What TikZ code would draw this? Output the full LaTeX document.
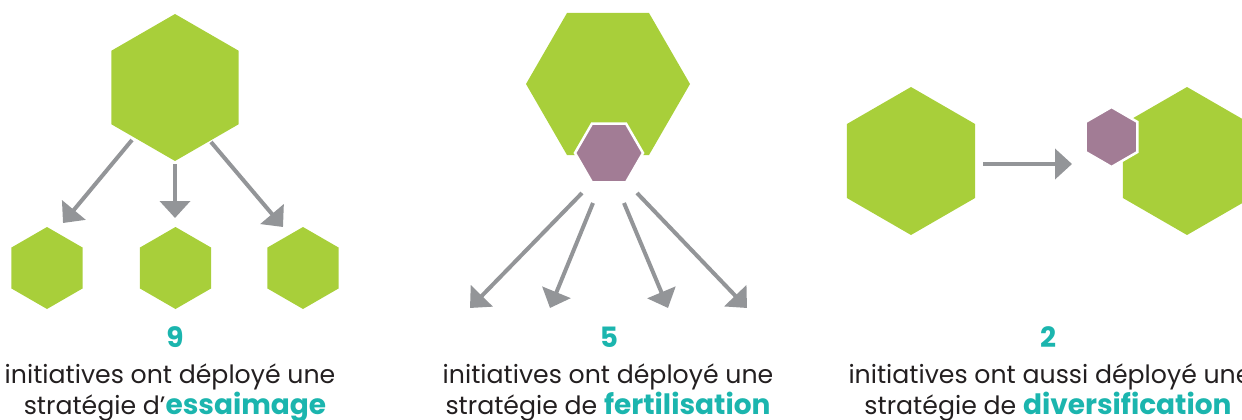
\documentclass[tikz,border=0pt]{standalone}
\usepackage{fontspec}
\setmainfont{Poppins}
\usetikzlibrary{arrows.meta,shapes.geometric}
\definecolor{hgreen}{HTML}{A8CF3A}
\definecolor{hpurple}{HTML}{A27C95}
\definecolor{agray}{HTML}{939598}
\definecolor{teal}{HTML}{1BB5AE}
\definecolor{txt}{HTML}{231F20}
\newcommand{\kwd}[1]{\textcolor{teal}{\fontsize{28}{28}\selectfont\bfseries #1}}
\tikzset{
  hexflat/.style={regular polygon, regular polygon sides=6, inner sep=0pt, outer sep=0pt, minimum size=#1},
  hexpoint/.style={hexflat=#1, shape border rotate=30},
  greenhex/.style={fill=hgreen, draw=none},
  purplehex/.style={fill=hpurple, draw=white, line width=2.5pt},
  flow/.style={draw=agray, line width=4pt, -{Triangle[length=17pt,width=30pt]}},
  num/.style={font=\fontsize{28}{30}\selectfont\bfseries, text=teal, anchor=base},
  lbl/.style={font=\fontsize{25.2}{28}\selectfont, text=txt, anchor=base, align=center}
}
\begin{document}
\begin{tikzpicture}[x=1pt,y=-1pt]
\useasboundingbox (0,0) rectangle (1242,420);
\clip (0,0) rectangle (1242,420);
% left diagram: essaimage
\node[greenhex, hexpoint=147pt] (lbig) at (175,87.5) {};
\node[greenhex, hexpoint=82pt] (ls1) at (47,268) {};
\node[greenhex, hexpoint=82pt] (ls2) at (175.5,268) {};
\node[greenhex, hexpoint=82pt] (ls3) at (303,268) {};
\coordinate (la1s) at (132,140); \coordinate (la1e) at (63,223);
\coordinate (la2s) at (175,164); \coordinate (la2e) at (175,218);
\coordinate (la3s) at (211,142); \coordinate (la3e) at (283,227);
\draw[flow] (la1s) -- (la1e);
\draw[flow] (la2s) -- (la2e);
\draw[flow] (la3s) -- (la3e);
% middle diagram: fertilisation
\node[greenhex, hexflat=164pt] (mbig) at (608,84) {};
\node[purplehex, hexflat=68pt] (mp) at (609,153) {};
\coordinate (ma1s) at (582,193); \coordinate (ma1e) at (470,308);
\coordinate (ma2s) at (593,203); \coordinate (ma2e) at (550,308);
\coordinate (ma3s) at (624,203); \coordinate (ma3e) at (668,308);
\coordinate (ma4s) at (637,193); \coordinate (ma4e) at (747,308);
\draw[flow] (ma1s) -- (ma1e);
\draw[flow] (ma2s) -- (ma2e);
\draw[flow] (ma3s) -- (ma3e);
\draw[flow] (ma4s) -- (ma4e);
% right diagram: diversification
\node[greenhex, hexpoint=148pt] (rbig1) at (911,161) {};
\node[greenhex, hexpoint=148pt] (rbig2) at (1187,161) {};
\node[purplehex, hexpoint=60pt] (rp) at (1111.5,137) {};
\coordinate (ras) at (983,164); \coordinate (rae) at (1072,164);
\draw[flow] (ras) -- (rae);
% texts
\node[num] (n1) at (175,347) {9};
\node[lbl] (t1a) at (170,383) {initiatives ont déployé une};
\node[lbl] (t1b) at (175,414) {stratégie d’\kwd{essaimage}};
\node[num] (n2) at (609,347) {5};
\node[lbl] (t2a) at (608,383) {initiatives ont déployé une};
\node[lbl] (t2b) at (608,414) {stratégie de \kwd{fertilisation}};
\node[num] (n3) at (1048,347) {2};
\node[lbl] (t3a) at (1050,383) {initiatives ont aussi déployé une};
\node[lbl] (t3b) at (1048,414) {stratégie de \kwd{diversification}};
\end{tikzpicture}
\end{document}
